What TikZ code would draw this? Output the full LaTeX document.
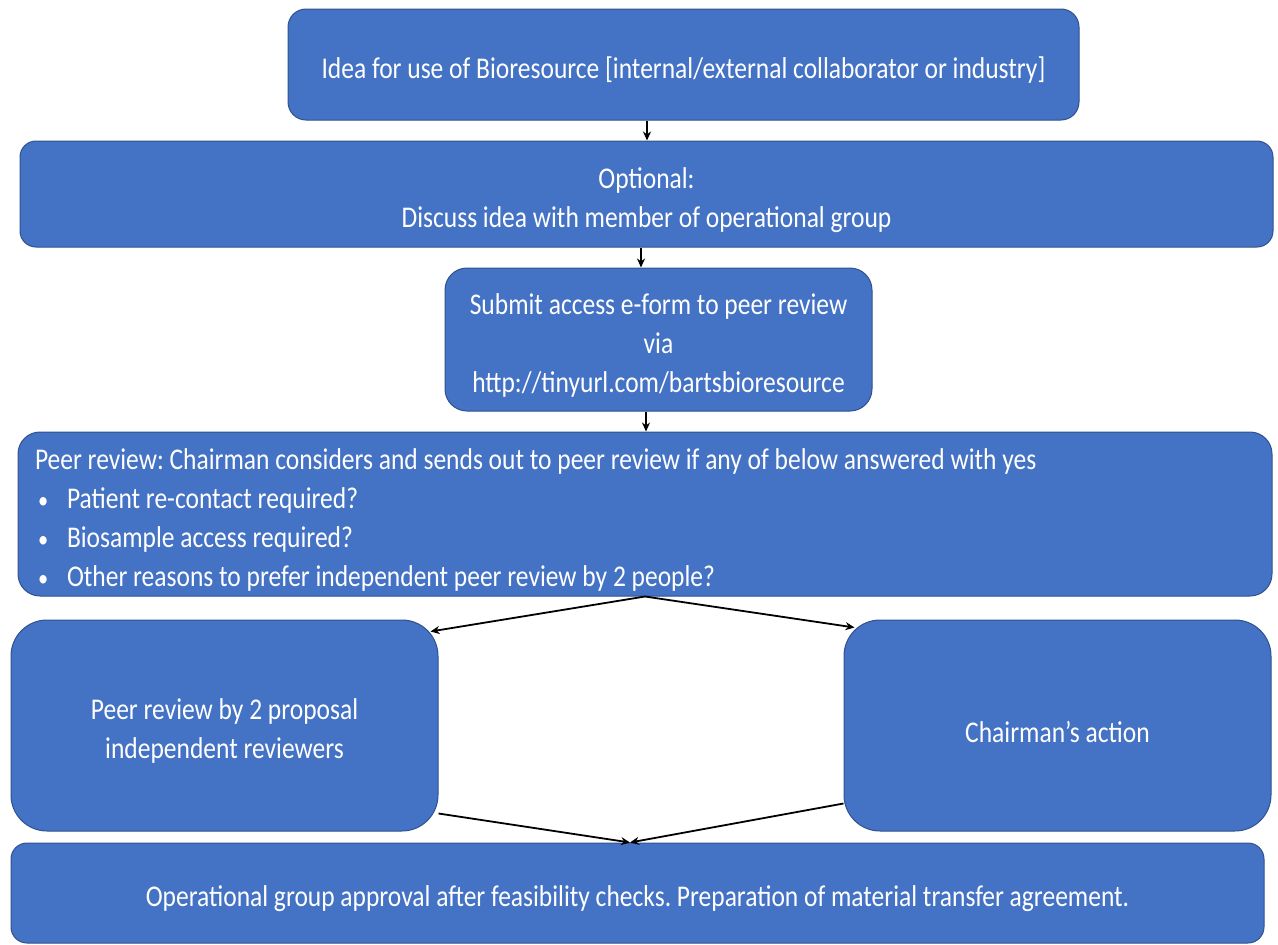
\documentclass[tikz,border=0pt]{standalone}
\usepackage{fontspec}
\setmainfont{Carlito}
\usepackage{graphicx}
\usetikzlibrary{arrows.meta,calc}
\definecolor{boxblue}{HTML}{4472C4}
\definecolor{boxedge}{HTML}{2F528F}
\newsavebox{\txtbox}
\newcommand{\stretchtext}[1]{\sbox{\txtbox}{\scalebox{1}[1.18]{#1}}\raisebox{-6pt}[\ht\txtbox][\dp\txtbox]{\usebox{\txtbox}}}
\newcommand{\boxfont}{\fontsize{25.5}{33}\selectfont\frenchspacing}
\newcommand{\bul}{\makebox[32pt][l]{\hspace{3pt}\scalebox{0.8}{•}}}
\begin{document}
\begin{tikzpicture}[x=1pt,y=-1pt,
  flowbox/.style={draw=boxedge, line width=1pt, fill=boxblue, text=white,
    font=\boxfont, align=center, inner sep=0pt, rounded corners=#1},
  flowbox/.default=18pt,
  arr/.style={line width=1.8pt, -{Stealth[length=9pt,width=8pt]}}]
\useasboundingbox (0,0) rectangle (1278,945);

\node[flowbox, minimum width=791pt, minimum height=111pt] (top) at (683.5,64.5)
  {\stretchtext{Idea for use of Bioresource [internal/external collaborator or industry]}};

\node[flowbox=16pt, minimum width=1253pt, minimum height=106pt] (opt) at (646.5,194)
  {\stretchtext{\begin{tabular}{@{}c@{}}Optional:\\Discuss idea with member of operational group\end{tabular}}};

\node[flowbox=22pt, minimum width=427pt, minimum height=143pt] (sub) at (658.5,339.5)
  {\stretchtext{\begin{tabular}{@{}c@{}}Submit access e-form to peer review\\via\\http://tinyurl.com/bartsbioresource\end{tabular}}};

\node[flowbox=22pt, minimum width=1254pt, minimum height=164pt] (peer) at (645,514)
  {\makebox[1220pt][l]{\stretchtext{\begin{tabular}{@{}l@{}}Peer review: Chairman considers and sends out to peer review if any of below answered with yes\\
  \bul Patient re-contact required?\\
  \bul Biosample access required?\\
  \bul Other reasons to prefer independent peer review by 2 people?\end{tabular}}}};

\node[flowbox=36pt, minimum width=427pt, minimum height=211pt] (left) at (224.5,725.5)
  {\stretchtext{\begin{tabular}{@{}c@{}}Peer review by 2 proposal\\independent reviewers\end{tabular}}};

\node[flowbox=36pt, minimum width=427pt, minimum height=211pt] (right) at (1057.5,725.5)
  {\stretchtext{Chairman’s action}};

\node[flowbox=16pt, minimum width=1253pt, minimum height=100pt] (bot) at (637.5,893)
  {\stretchtext{Operational group approval after feasibility checks. Preparation of material transfer agreement.}};

\coordinate (xa) at (647,0);
\coordinate (xb) at (641,0);
\coordinate (xc) at (646,0);
\coordinate (xd) at (630,0);

\draw[arr] (top.south -| xa) -- (opt.north -| xa);
\draw[arr] (opt.south -| xb) -- (sub.north -| xb);
\draw[arr] (sub.south -| xc) -- (peer.north -| xc);
\draw[arr] (peer.south) -- ($(left.north east)+(-8,12)$);
\draw[arr] (peer.south) -- ($(right.north west)+(11,8)$);
\draw[arr] ($(left.south east)+(0,-18)$) -- (bot.north -| xd);
\draw[arr] ($(right.south west)+(0,-28)$) -- (bot.north -| xd);
\end{tikzpicture}
\end{document}
